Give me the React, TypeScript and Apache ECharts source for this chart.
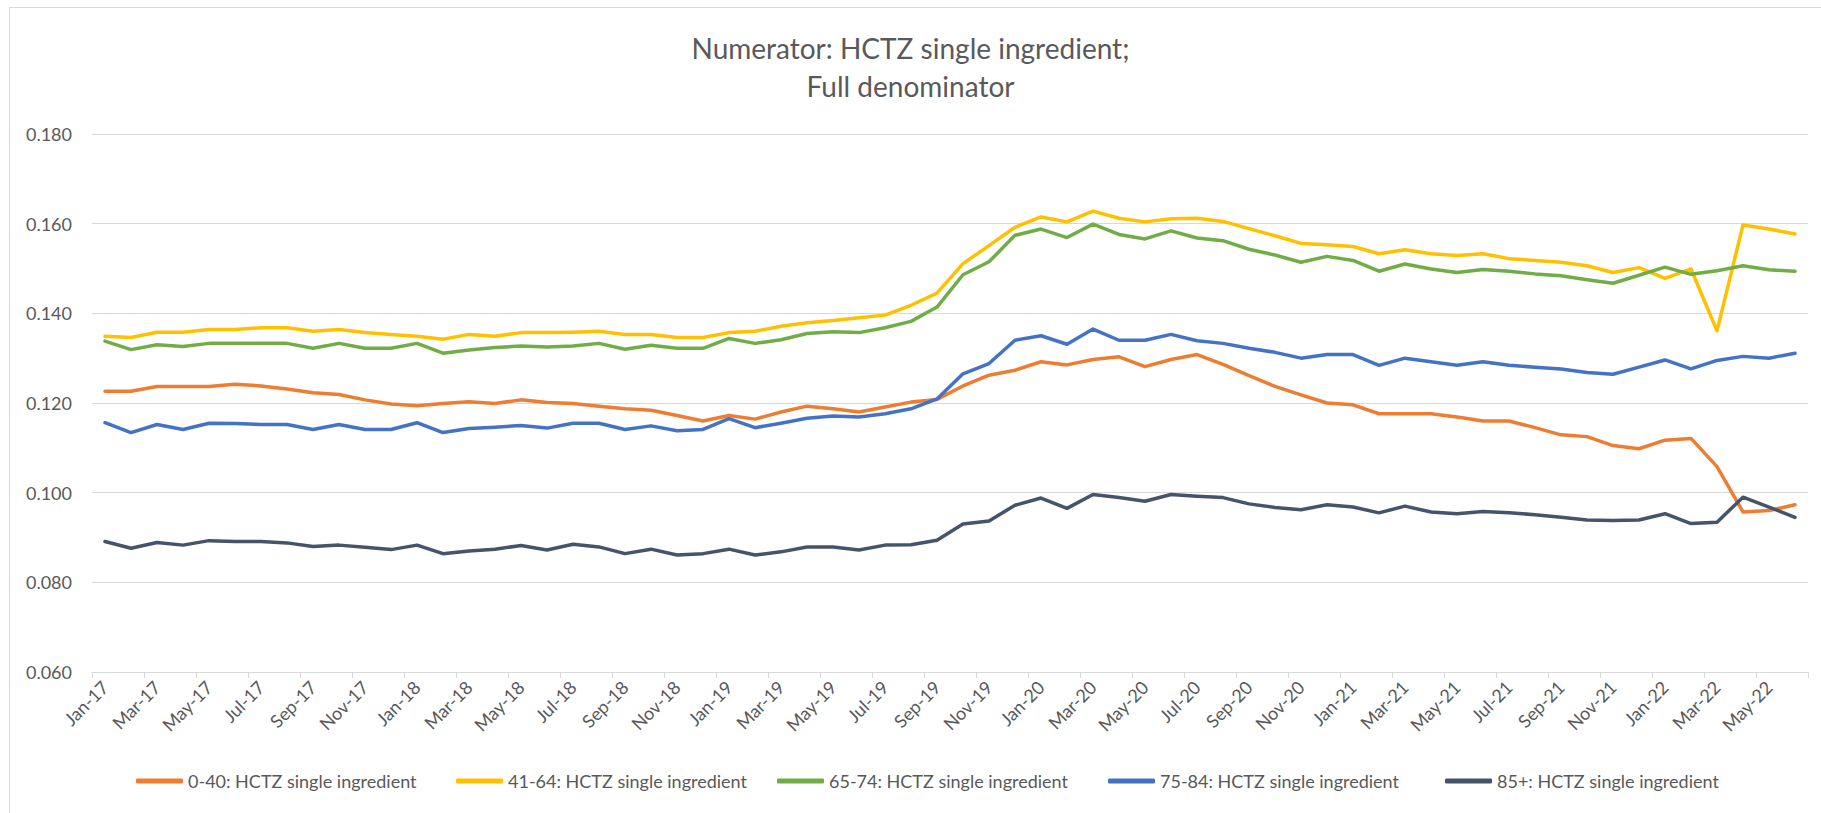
import React, { useEffect, useRef } from "react";
import * as echarts from "echarts";

const categories = [
  "Jan-17","Feb-17","Mar-17","Apr-17","May-17","Jun-17","Jul-17","Aug-17","Sep-17","Oct-17","Nov-17","Dec-17",
  "Jan-18","Feb-18","Mar-18","Apr-18","May-18","Jun-18","Jul-18","Aug-18","Sep-18","Oct-18","Nov-18","Dec-18",
  "Jan-19","Feb-19","Mar-19","Apr-19","May-19","Jun-19","Jul-19","Aug-19","Sep-19","Oct-19","Nov-19","Dec-19",
  "Jan-20","Feb-20","Mar-20","Apr-20","May-20","Jun-20","Jul-20","Aug-20","Sep-20","Oct-20","Nov-20","Dec-20",
  "Jan-21","Feb-21","Mar-21","Apr-21","May-21","Jun-21","Jul-21","Aug-21","Sep-21","Oct-21","Nov-21","Dec-21",
  "Jan-22","Feb-22","Mar-22","Apr-22","May-22","Jun-22",
];

const seriesNames = [
  "0-40: HCTZ single ingredient",
  "41-64: HCTZ single ingredient",
  "65-74: HCTZ single ingredient",
  "75-84: HCTZ single ingredient",
  "85+: HCTZ single ingredient",
];

const age0to40 = [
  0.1226,0.1226,0.1237,0.1237,0.1237,0.1242,0.1238,0.1231,0.1223,0.1219,0.1207,0.1198,
  0.1194,0.1199,0.1203,0.1199,0.1207,0.1201,0.1199,0.1193,0.1187,0.1184,0.1172,0.1160,
  0.1172,0.1164,0.1180,0.1193,0.1187,0.1180,0.1191,0.1202,0.1208,0.1238,0.1262,0.1273,
  0.1292,0.1285,0.1297,0.1303,0.1281,0.1297,0.1308,0.1286,0.1261,0.1237,0.1218,0.1200,
  0.1196,0.1176,0.1176,0.1176,0.1169,0.1160,0.1160,0.1145,0.1129,0.1125,0.1105,0.1098,
  0.1117,0.1121,0.1058,0.0957,0.0960,0.0973,
];

const age41to64 = [
  0.1349,0.1346,0.1358,0.1358,0.1364,0.1364,0.1368,0.1368,0.1360,0.1364,0.1357,0.1353,
  0.1349,0.1342,0.1353,0.1349,0.1357,0.1357,0.1358,0.1360,0.1353,0.1353,0.1346,0.1346,
  0.1357,0.1360,0.1371,0.1379,0.1384,0.1390,0.1396,0.1418,0.1445,0.1511,0.1551,0.1592,
  0.1615,0.1604,0.1628,0.1612,0.1604,0.1611,0.1612,0.1605,0.1589,0.1573,0.1556,0.1553,
  0.1549,0.1533,0.1542,0.1533,0.1529,0.1533,0.1522,0.1518,0.1514,0.1506,0.1491,0.1502,
  0.1478,0.1499,0.1361,0.1597,0.1588,0.1577,
];

const age65to74 = [
  0.1338,0.1319,0.1330,0.1326,0.1333,0.1333,0.1333,0.1333,0.1322,0.1333,0.1322,0.1322,
  0.1333,0.1311,0.1318,0.1324,0.1327,0.1325,0.1327,0.1333,0.1320,0.1329,0.1322,0.1322,
  0.1344,0.1333,0.1341,0.1355,0.1359,0.1357,0.1368,0.1382,0.1414,0.1486,0.1515,0.1574,
  0.1588,0.1569,0.1599,0.1576,0.1566,0.1584,0.1568,0.1562,0.1543,0.1530,0.1514,0.1527,
  0.1518,0.1494,0.1510,0.1499,0.1491,0.1498,0.1494,0.1488,0.1484,0.1475,0.1467,0.1485,
  0.1503,0.1487,0.1495,0.1506,0.1497,0.1494,
];

const age75to84 = [
  0.1156,0.1134,0.1152,0.1141,0.1155,0.1154,0.1152,0.1152,0.1141,0.1152,0.1141,0.1141,
  0.1156,0.1134,0.1143,0.1146,0.1150,0.1144,0.1155,0.1155,0.1141,0.1149,0.1138,0.1141,
  0.1165,0.1145,0.1155,0.1166,0.1171,0.1169,0.1176,0.1187,0.1209,0.1265,0.1288,0.1340,
  0.1350,0.1331,0.1365,0.1340,0.1340,0.1353,0.1339,0.1333,0.1322,0.1313,0.1300,0.1308,
  0.1308,0.1284,0.1300,0.1292,0.1284,0.1292,0.1284,0.1280,0.1276,0.1268,0.1264,0.1280,
  0.1296,0.1276,0.1295,0.1304,0.1300,0.1311,
];

const age85plus = [
  0.0891,0.0876,0.0889,0.0883,0.0893,0.0891,0.0891,0.0888,0.0880,0.0883,0.0878,0.0873,
  0.0883,0.0864,0.0870,0.0874,0.0882,0.0872,0.0885,0.0879,0.0864,0.0874,0.0861,0.0864,
  0.0874,0.0861,0.0868,0.0879,0.0879,0.0872,0.0883,0.0884,0.0894,0.0930,0.0937,0.0972,
  0.0988,0.0965,0.0996,0.0989,0.0981,0.0996,0.0992,0.0989,0.0975,0.0967,0.0962,0.0973,
  0.0968,0.0955,0.0970,0.0957,0.0953,0.0958,0.0955,0.0951,0.0945,0.0939,0.0938,0.0939,
  0.0953,0.0931,0.0934,0.0990,0.0968,0.0945,
];

const seriesValues = [age0to40, age41to64, age65to74, age75to84, age85plus];
const seriesColors = ["#ED7D31", "#FFC000", "#70AD47", "#4472C4", "#44546A"];
const legendLefts = [131, 451, 772, 1103, 1440];

const FONT = "Lato";
const TEXT = "#595959";
const GRID = "#d9d9d9";

export default function App() {
  const ref = useRef<HTMLDivElement>(null);

  useEffect(() => {
    if (!ref.current) return;
    const chart = echarts.init(ref.current, null, { renderer: "svg" });
    chart.setOption({
      animation: false,
      backgroundColor: "#ffffff",
      textStyle: { fontFamily: FONT },
      title: {
        text: "Numerator: HCTZ single ingredient;\nFull denominator",
        left: "center",
        top: 24,
        textStyle: {
          fontFamily: FONT,
          fontSize: 28,
          fontWeight: "normal",
          color: TEXT,
          lineHeight: 38,
        },
      },
      legend: seriesNames.map((n, i) => ({
        data: [n],
        left: legendLefts[i],
        top: 767,
        icon: "roundRect",
        itemWidth: 47,
        itemHeight: 5,
        textStyle: { fontFamily: FONT, fontSize: 18, color: TEXT },
        selectedMode: false,
      })),
      grid: { left: 92, right: 13, top: 134, bottom: 141, containLabel: false },
      xAxis: {
        type: "category",
        data: categories,
        boundaryGap: true,
        axisLine: { show: true, lineStyle: { color: GRID, width: 1 } },
        axisTick: { show: true, interval: 1, length: 6, lineStyle: { color: GRID } },
        axisLabel: {
          interval: 1,
          rotate: 45,
          margin: 12,
          fontFamily: FONT,
          fontSize: 18,
          color: TEXT,
        },
      },
      yAxis: {
        type: "value",
        min: 0.06,
        max: 0.18,
        interval: 0.02,
        axisLine: { show: false },
        axisTick: { show: false },
        splitLine: { lineStyle: { color: GRID, width: 1 } },
        axisLabel: {
          formatter: (v: number) => v.toFixed(3),
          margin: 20,
          fontFamily: FONT,
          fontSize: 18,
          color: TEXT,
        },
      },
      series: seriesNames.map((n, i) => ({
        name: n,
        type: "line",
        data: seriesValues[i],
        symbol: "none",
        showSymbol: false,
        lineStyle: { width: 3.5, color: seriesColors[i], cap: "round", join: "round" },
        itemStyle: { color: seriesColors[i] },
      })),
      graphic: [
        {
          type: "line",
          shape: { x1: 9.5, y1: 7.5, x2: 9.5, y2: 813 },
          style: { stroke: GRID, lineWidth: 1 },
          silent: true,
        },
        {
          type: "line",
          shape: { x1: 9.5, y1: 7.5, x2: 1821, y2: 7.5 },
          style: { stroke: GRID, lineWidth: 1 },
          silent: true,
        },
      ],
    });
    return () => chart.dispose();
  }, []);

  return (
    <div
      ref={ref}
      style={{ position: "fixed", left: 0, top: 0, width: 1821, height: 813, background: "#fff" }}
    />
  );
}
